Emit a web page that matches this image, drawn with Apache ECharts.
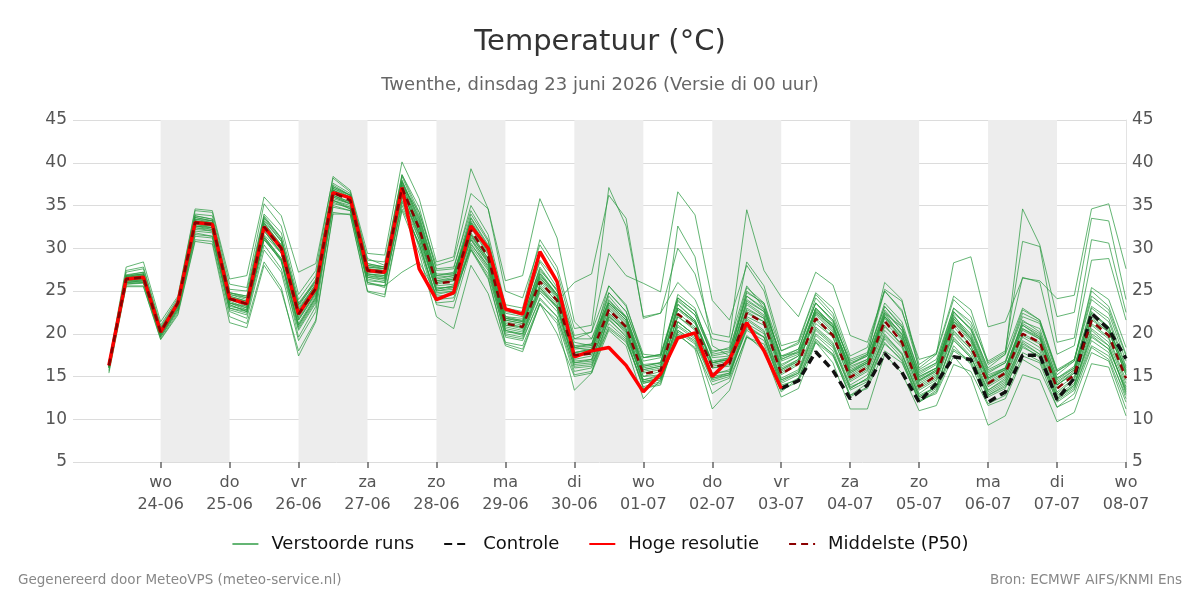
<!DOCTYPE html>
<html>
<head>
<meta charset="utf-8">
<script src="https://cdn.jsdelivr.net/npm/echarts@6/dist/echarts.min.js"></script>
<style>
  html, body { margin: 0; padding: 0; background: #fff; }
  #chart { width: 1200px; height: 600px; }
</style>
</head>
<body>
<div id="chart"></div>
<script>
// run starts 23-06 06:00, one value every 6 hours up to 08-07 00:00
const runStart = '2026-06-23T06:00'
const stepHours = 6

const tickDays = ['2026-06-24', '2026-06-25', '2026-06-26', '2026-06-27', '2026-06-28', '2026-06-29', '2026-06-30',
  '2026-07-01', '2026-07-02', '2026-07-03', '2026-07-04', '2026-07-05', '2026-07-06', '2026-07-07', '2026-07-08']
const shadedDays = ['2026-06-24', '2026-06-26', '2026-06-28', '2026-06-30', '2026-07-02', '2026-07-04', '2026-07-06']
const dayNames = ['zo', 'ma', 'di', 'wo', 'do', 'vr', 'za']

// hoge resolutie (runs until 03-07 00:00)
const hres = [16.3, 26.4, 26.6, 20.2, 23.6, 33.0, 32.8, 24.1, 23.5, 32.5, 30.0, 22.3, 25.3, 36.5, 35.9, 27.4, 27.2, 37.1, 27.6, 24.0,
  24.8, 32.6, 30.0, 22.9, 22.3, 29.6, 26.1, 17.3, 18.0, 18.4, 16.3, 13.2, 15.3, 19.5, 20.1, 15.0, 17.0, 21.3, 18.0, 13.6]

// controle, visible from 03-07 00:00 (index 39) on
const controlFrom = 39
const control = [13.6, 14.5, 17.9, 15.7, 12.4, 14.0, 17.7, 15.5, 12.0, 14.2, 17.3, 17.0, 12.0, 13.2, 17.5, 17.5, 12.3, 14.8, 22.4, 20.5, 17.1]

// middelste (P50)
const median = [16.3, 26.4, 26.6, 20.2, 23.6, 33.0, 32.8, 24.1, 23.5, 32.5, 30.0, 22.3, 25.3, 36.5, 35.6, 27.4, 27.2, 37.1, 32.3, 25.9,
  26.1, 32.1, 29.0, 21.2, 20.8, 26.1, 23.9, 17.5, 17.7, 22.8, 20.8, 15.3, 15.7, 22.3, 20.8, 16.1, 16.5, 22.4, 21.3, 15.3,
  16.5, 21.8, 19.8, 14.9, 16.1, 21.5, 19.0, 13.8, 15.1, 21.0, 18.5, 14.2, 15.4, 20.0, 19.0, 13.6, 15.2, 21.5, 19.8, 14.8]

// verstoorde runs
const member01 = [16.5,26.8,27.0, 20.5,23.8,33.6,33.2, 24.6,24.0,33.2,30.8, 23.0,25.8,37.0,36.0, 27.8,27.6,37.8,33.0, 26.4,26.8,33.5,30.2, 22.0,21.5,27.2,24.6, 18.2,18.4,24.0,21.8, 16.0,16.4,23.5,21.6, 16.8,17.2,23.6,22.2, 16.0,17.0,22.8,20.6, 15.4,16.6,22.4,19.8, 14.5,15.8,22.2,19.4, 14.8,16.0,21.2,20.0, 14.2,15.8,22.6,20.8, 15.6]
const member02 = [16.0,26.0,26.2, 19.8,23.0,32.2,32.0, 23.2,22.8,31.0,28.6, 21.0,24.2,35.4,34.6, 26.2,26.0,35.0,30.4, 24.4,24.6,29.8,27.0, 19.8,19.4,24.0,22.0, 16.2,16.4,20.6,19.0, 14.2,14.6,20.4,19.2, 14.8,15.4,20.6,19.6, 14.2,15.2,20.0,18.4, 13.6,14.8,19.6,17.6, 12.6,13.8,19.2,17.2, 13.0,14.2,18.4,17.4, 12.4,13.8,19.6,18.2, 13.4]
const member03 = [16.6,27.2,27.6, 20.8,24.0,34.0,33.8, 25.2,25.0,34.0,31.8, 24.0,26.8,37.6,36.4, 28.6,28.4,38.6,34.8, 27.4,27.6,35.0,31.6, 23.4,23.0,31.0,27.8, 20.6,21.0,37.1,32.6, 22.0,22.4,30.0,27.0, 20.0,19.6,34.5,27.4, 24.3,22.0,27.2,25.7, 19.8,19.0,25.0,22.6, 17.0,17.6,24.0,22.0, 16.4,17.6,23.0,21.6, 15.6,17.0,25.0,23.2, 17.6]
const member04 = [16.4,26.6,26.9, 20.4,23.6,33.4,33.0, 24.4,23.8,33.0,30.4, 22.8,25.6,36.8,35.8, 27.6,27.4,38.0,33.4, 26.8,27.0,34.0,30.8, 22.6,22.2,28.4,25.4, 19.4,20.2,29.4,26.8, 25.9,24.9,36.6,33.9, 23.9,21.6,28.0,25.0, 18.0,18.8,23.6,21.4, 16.8,17.6,23.2,20.8, 15.2,16.4,22.0,20.0, 15.2,16.0,21.0,19.6, 14.6,16.0,22.4,20.6, 15.8]
const member05 = [16.2,26.2,26.4, 20.0,23.4,32.8,32.6, 24.0,23.2,32.0,29.6, 22.0,25.0,36.2,35.4, 27.2,27.0,36.8,32.0, 25.6,25.8,31.8,28.8, 21.0,20.6,25.8,23.8, 26.0,27.0,36.2,33.5, 21.8,22.4,26.0,24.0, 19.4,19.0,25.6,23.0, 17.4,17.8,22.4,20.8, 16.2,17.0,22.8,20.4, 15.0,16.0,21.8,19.8, 14.8,15.8,20.6,19.4, 14.0,15.4,21.8,20.2, 15.2]
const member06 = [16.4,26.8,27.2, 20.6,23.8,33.8,33.4, 24.8,24.4,33.6,31.2, 23.6,26.2,37.4,36.2, 28.2,27.8,36.4,31.0, 25.0,25.4,31.0,28.4, 21.6,21.2,27.0,24.6, 18.4,18.8,24.4,22.0, 16.8,17.2,24.0,22.2, 17.6,18.0,25.4,23.6, 18.0,19.0,24.6,22.4, 17.0,17.8,25.0,22.8, 16.0,17.6,28.3,29.0, 20.8,21.4,26.5,26.2, 24.1,24.5,34.6,35.2, 27.6]
const member07 = [16.1,26.3,26.5, 20.1,23.5,33.2,33.0, 24.2,23.6,32.8,30.2, 22.6,25.4,36.6,35.8, 27.6,27.2,36.8,32.0, 25.8,26.2,32.6,29.4, 21.4,21.0,26.6,24.2, 17.8,18.0,23.4,21.4, 15.8,16.2,23.0,21.4, 16.6,17.0,23.4,22.0, 16.2,17.4,23.0,21.0, 16.0,17.0,22.6,20.4, 15.0,16.0,22.4,20.6, 16.0,17.6,34.6,30.4, 22.0,22.5,33.5,33.2, 24.0]
const member08 = [16.3,26.5,26.7, 20.3,23.6,32.6,32.4, 23.8,23.0,31.6,29.4, 21.6,24.8,36.0,35.2, 27.0,26.8,37.4,32.8, 26.2,26.4,33.0,29.8, 21.8,21.6,27.8,25.0, 18.6,18.8,23.8,22.0, 16.4,16.6,24.6,23.0, 17.2,17.4,24.8,23.6, 17.0,18.0,24.2,22.0, 16.4,17.6,26.0,24.0, 15.8,17.0,23.0,21.4, 16.8,18.0,30.8,30.2, 19.0,19.5,31.0,30.6, 22.5]
const member09 = [16.0,25.8,25.9, 19.6,22.6,31.4,31.2, 22.8,22.2,30.4,27.6, 20.4,23.6,35.0,34.4, 25.8,25.6,35.6,31.0, 24.0,24.2,30.2,27.4, 19.6,19.2,24.2,22.0, 15.6,16.0,21.2,19.4, 13.6,14.2,20.4,19.0, 14.4,15.0,20.8,19.6, 13.8,14.8,19.8,18.0, 12.8,14.2,19.4,17.2, 12.0,13.4,18.6,16.4, 11.8,12.8,17.4,16.6, 11.4,13.0,18.4,17.0, 12.0]
const member10 = [15.8,25.6,25.6, 19.4,22.4,31.0,30.8, 22.0,21.2,28.4,25.4, 17.4,21.4,34.0,34.0, 25.0,24.6,34.6,30.6, 23.6,23.8,30.4,28.0, 20.4,19.8,25.0,23.2, 16.8,17.0,22.0,20.2, 14.6,15.0,21.4,19.8, 15.4,15.6,21.2,20.0, 14.6,15.6,20.8,19.0, 14.0,15.2,20.4,18.4, 13.0,14.4,20.0,17.8, 13.2,14.4,19.2,18.0, 12.6,14.0,20.0,18.6, 13.0]
const member11 = [16.2,26.0,26.1, 20.0,23.2,32.4,32.2, 23.4,22.6,31.2,28.8, 20.8,24.0,35.6,34.8, 26.6,26.2,36.4,31.6, 25.0,25.2,31.2,28.2, 20.4,20.0,25.2,23.0, 16.4,16.6,21.6,19.8, 14.4,14.8,21.0,19.6, 15.0,15.4,20.4,19.2, 14.0,14.6,19.0,17.4, 12.8,13.6,18.0,16.6, 12.2,13.0,17.4,15.0, 9.3,10.4,15.2,14.6, 9.7,10.8,16.5,16.1, 10.4]
const member12 = [16.4,26.6,26.8, 20.2,23.4,32.6,32.2, 23.6,22.8,31.4,28.6, 19.6,23.2,35.8,35.2, 26.8,26.4,36.0,30.0, 23.4,23.0,29.8,26.4, 19.0,18.6,23.6,21.2, 13.4,15.4,20.4,18.6, 12.4,14.6,20.0,18.2, 11.2,13.4,19.6,18.4, 13.2,14.8,19.4,17.6, 12.6,13.8,19.0,16.8, 12.0,13.2,18.0,16.6, 12.6,13.6,18.6,17.2, 12.0,13.4,19.2,17.8, 12.4]
const member13 = [16.3,26.4,26.6, 20.2,23.6,33.2,33.0, 24.4,23.8,32.8,30.4, 22.8,25.8,36.8,36.0, 27.8,27.6,37.6,32.6, 26.2,26.6,32.8,29.6, 21.6,21.2,26.6,24.4, 17.8,18.2,23.2,21.2, 15.6,16.0,22.8,21.2, 16.4,16.8,22.8,21.8, 15.6,16.8,22.2,20.2, 15.2,16.4,21.8,19.4, 14.2,15.4,21.4,19.0, 14.6,15.8,20.6,19.6, 14.0,15.6,22.0,20.4, 15.2]
const member14 = [16.5,26.9,27.2, 20.6,23.8,33.8,33.4, 24.8,24.2,33.4,30.8, 23.2,26.2,37.0,36.2, 28.0,27.6,36.2,31.4, 25.2,25.6,31.4,28.6, 20.8,20.4,25.6,23.4, 17.0,17.4,22.4,20.6, 15.0,15.6,22.0,20.4, 16.0,16.4,23.0,21.8, 15.8,16.8,21.6,19.6, 14.6,15.8,21.0,18.6, 13.6,14.8,20.4,18.2, 14.0,15.2,21.6,20.2, 14.8,16.0,23.0,21.4, 16.0]
const member15 = [16.1,26.1,26.3, 19.9,23.2,32.6,32.4, 23.6,23.0,32.0,29.4, 21.8,24.8,36.2,35.4, 27.0,26.8,37.0,32.6, 26.0,26.2,32.4,29.2, 21.2,20.8,26.4,24.0, 17.6,17.8,23.0,21.0, 15.4,15.8,22.0,20.6, 16.2,16.6,22.4,21.4, 15.4,16.6,21.8,20.0, 15.0,16.2,21.4,19.2, 13.8,15.0,20.8,18.6, 14.2,15.4,20.0,19.0, 13.6,15.0,21.2,19.6, 14.6]
const member16 = [16.6,27.4,27.8, 21.0,24.2,34.4,34.2, 25.8,25.4,35.2,32.6, 24.6,27.4,38.4,36.8, 29.4,29.2,40.1,35.8, 28.4,29.0,39.3,34.6, 25.0,24.2,30.4,27.2, 19.8,20.2,25.6,23.4, 17.2,17.6,24.2,22.6, 18.0,18.2,24.4,23.0, 17.2,18.2,23.6,21.6, 16.4,17.4,23.2,21.0, 15.6,16.6,22.6,20.4, 15.4,16.6,22.0,21.2, 15.2,16.8,24.0,22.4, 16.8]
const member17 = [16.0,25.9,26.0, 19.8,22.8,31.8,31.4, 22.6,21.8,29.8,27.2, 19.2,22.6,35.2,34.8, 26.0,25.6,27.2,28.4, 24.6,25.0,30.0,26.6, 18.8,18.2,23.4,21.6, 15.2,15.6,20.8,19.2, 13.8,14.4,19.8,18.4, 14.0,14.8,19.6,18.8, 13.4,14.4,19.2,17.6, 13.4,14.4,18.8,17.0, 12.4,13.6,18.2,16.8, 12.8,13.8,17.8,16.8, 12.2,13.6,18.6,17.4, 12.8]
const member18 = [16.4,26.7,27.0, 20.4,23.6,33.2,32.8, 24.2,23.4,32.4,30.0, 22.4,25.4,36.6,35.8, 27.4,27.0,37.4,34.2, 28.0,28.6,36.4,34.6, 26.2,26.8,35.8,31.2, 21.4,19.4,23.6,22.0, 16.2,16.6,23.4,21.6, 16.6,17.0,22.6,21.4, 15.8,17.0,23.0,20.8, 15.6,16.6,22.0,19.6, 14.4,15.6,21.6,19.2, 14.4,15.6,20.4,19.4, 14.0,15.4,21.6,20.2, 15.4]
const member19 = [16.2,26.4,26.5, 20.2,23.4,32.8,32.6, 24.0,23.6,32.6,29.8, 22.2,25.0,36.2,35.2, 27.0,26.6,37.2,32.4, 25.4,25.4,31.6,28.8, 21.0,20.8,26.8,24.6, 18.4,18.0,24.8,22.6, 17.2,17.6,32.6,29.0, 18.6,17.4,25.0,23.4, 17.0,17.8,23.0,21.0, 15.6,16.8,22.0,20.0, 14.6,15.8,21.4,19.6, 15.0,16.0,21.4,20.6, 14.8,16.2,23.2,21.8, 16.2]
const member20 = [16.3,26.3,26.4, 20.0,23.3,32.4,32.0, 23.4,22.6,31.0,28.6, 21.2,24.4,35.6,35.0, 26.6,26.4,36.6,32.4, 26.0,26.4,33.6,30.4, 22.4,22.0,27.4,25.2, 19.0,18.6,25.6,23.2, 17.6,17.4,24.2,22.6, 17.8,18.4,28.4,25.6, 18.6,19.2,24.8,23.0, 17.4,18.4,25.2,23.8, 16.4,17.8,24.4,22.8, 16.6,17.8,26.6,26.0, 17.6,18.6,28.6,28.8, 21.6]
const member21 = [16.2,26.2,26.3, 20.0,23.4,32.8,32.4, 23.6,23.2,32.2,29.4, 21.6,24.6,36.0,35.2, 26.8,26.6,36.8,31.8, 25.2,25.6,31.6,28.4, 20.6,20.2,25.4,23.0, 16.6,16.8,22.2,20.0, 14.4,14.8,21.4,19.8, 14.8,15.2,21.0,19.6, 14.4,15.4,20.6,18.8, 13.6,14.8,20.0,17.6, 12.6,13.8,19.6,17.4, 12.8,14.0,19.0,17.6, 12.4,14.0,20.4,18.6, 13.2]
const member22 = [16.5,26.6,26.8, 20.4,23.6,33.0,32.8, 24.2,23.8,33.0,30.2, 22.6,25.6,36.8,35.8, 27.6,27.4,37.8,33.2, 26.6,26.8,33.0,29.8, 21.8,21.4,26.2,23.6, 17.4,17.6,22.8,20.6, 15.0,15.2,22.4,20.8, 16.0,16.2,22.0,21.0, 15.2,16.4,22.4,20.4, 14.8,16.0,22.0,19.4, 14.0,15.2,21.2,18.6, 13.8,15.0,19.8,18.8, 13.2,14.8,21.0,19.4, 14.2]
const member23 = [16.1,26.0,26.2, 19.8,23.0,32.0,31.8, 23.0,22.4,31.4,28.8, 21.0,24.2,35.6,34.6, 26.4,26.0,36.2,31.6, 24.8,25.0,31.0,27.8, 20.0,19.6,24.8,22.6, 16.0,16.2,21.8,19.6, 13.6,14.0,20.2,18.8, 13.0,14.4,19.8,18.0, 12.6,13.6,19.0,16.6, 11.2,11.2,17.6,15.4, 11.0,11.6,16.4,15.6, 11.6,12.4,17.0,15.8, 11.4,12.4,17.8,16.8, 11.2]
const member24 = [16.4,26.5,26.7, 20.3,23.7,33.4,33.2, 24.6,24.2,33.6,31.0, 23.4,26.4,37.2,36.2, 28.2,27.8,38.4,33.8, 27.0,27.0,33.2,30.0, 22.0,21.8,27.6,25.0, 18.4,18.6,23.6,21.6, 16.2,16.6,23.0,21.4, 16.6,17.0,23.8,22.6, 16.8,17.6,22.6,21.2, 15.8,16.8,22.4,20.8, 14.8,16.0,22.6,20.6, 15.6,16.6,22.4,21.4, 15.6,16.8,25.4,24.0, 18.4]
const member25 = [15.6,25.8,26.0, 19.6,22.8,31.6,31.4, 23.0,22.6,31.2,28.4, 20.6,23.8,34.8,34.4, 26.0,25.4,35.4,30.4, 24.2,24.6,30.6,27.6, 20.2,20.0,25.4,23.2, 16.6,17.0,22.4,20.4, 14.6,15.2,21.4,19.8, 15.2,15.8,21.8,20.4, 14.8,15.8,21.2,19.6, 14.4,15.6,20.8,18.8, 13.4,14.6,20.2,18.2, 13.4,14.8,19.6,18.4, 13.0,14.6,20.6,19.0, 13.8]
const member26 = [16.7,27.8,28.4, 21.4,24.4,34.6,34.4, 26.4,26.8,36.0,33.8, 27.2,28.2,38.2,36.6, 28.8,28.0,37.8,33.6, 26.8,27.2,32.8,29.6, 21.8,21.4,27.0,24.4, 17.8,18.2,23.6,21.6, 15.8,16.2,23.0,21.4, 16.6,17.2,24.0,22.6, 16.4,17.4,22.6,20.8, 15.4,16.6,22.2,20.0, 14.6,15.6,21.8,19.4, 14.8,15.8,21.0,19.8, 14.4,15.8,22.4,20.8, 15.6]
const member27 = [15.4,25.5,25.5, 19.3,22.2,30.8,30.5, 21.3,20.7,28.0,25.0, 18.0,21.6,34.2,33.9, 24.9,24.3,34.4,29.4, 22.0,20.6,28.0,24.7, 18.6,17.9,23.5,20.0, 15.0,15.4,22.0,20.4, 14.2,14.8,20.8,19.4, 14.6,15.2,21.6,20.2, 14.6,15.4,20.4,18.6, 13.8,14.6,19.8,17.8, 12.8,13.8,19.4,17.2, 13.4,14.6,18.8,17.6, 12.8,14.2,19.8,18.2, 13.6]
const member28 = [16.3,26.7,27.0, 20.6,23.8,33.6,33.2, 24.8,24.4,33.8,31.2, 23.4,26.0,37.2,36.2, 28.0,27.8,38.6,34.2, 27.6,27.8,34.4,31.0, 23.0,22.6,28.6,26.2, 19.4,19.4,24.8,22.6, 17.2,17.4,23.8,22.2, 17.4,17.8,24.4,22.8, 17.4,18.2,23.6,21.6, 16.6,17.4,23.6,21.4, 15.4,16.6,23.0,21.0, 15.8,16.8,22.8,21.6, 15.8,17.0,24.4,22.8, 17.4]

const members = [member01, member02, member03, member04, member05, member06, member07, member08, member09, member10,
  member11, member12, member13, member14, member15, member16, member17, member18, member19, member20,
  member21, member22, member23, member24, member25, member26, member27, member28]

const HOUR = 3600 * 1000
const DAY = 24 * HOUR
const startMs = new Date(runStart).getTime()
const times = median.map((_, i) => startMs + i * stepHours * HOUR)
const toPairs = (arr, offset = 0) => arr.map((v, k) => [times[offset + k], v])
const tickValues = tickDays.map((d) => new Date(d + 'T00:00').getTime())

const chart = echarts.init(document.getElementById('chart'))

const memberSeries = members.map((m) => ({
  name: 'Verstoorde runs',
  type: 'line',
  data: toPairs(m),
  symbol: 'none',
  silent: true,
  z: 2,
  lineStyle: { color: '#28983f', width: 1, opacity: 0.72 },
  itemStyle: { color: '#7cc48b' }
}))

const pad = (n) => String(n).padStart(2, '0')

chart.setOption({
  animation: false,
  textStyle: { fontFamily: 'DejaVu Sans' },
  title: {
    text: 'Temperatuur (°C)',
    subtext: 'Twenthe, dinsdag 23 juni 2026 (Versie di 00 uur)',
    left: 'center',
    top: 23,
    itemGap: 19,
    textStyle: { fontSize: 29, fontWeight: 'normal', color: '#333' },
    subtextStyle: { fontSize: 18, color: '#666' }
  },
  grid: { left: 73, right: 74, top: 120, bottom: 138 },
  legend: {
    top: 530,
    left: 'center',
    itemWidth: 26,
    itemHeight: 12,
    itemGap: 29,
    itemStyle: { opacity: 0 },
    textStyle: { fontSize: 18, color: '#111', padding: [0, 0, 0, 8] },
    data: ['Verstoorde runs', 'Controle', 'Hoge resolutie', 'Middelste (P50)']
  },
  xAxis: {
    type: 'value',
    min: new Date('2026-06-22T17:30').getTime(),
    max: new Date('2026-07-08T00:00').getTime(),
    axisLine: { show: false },
    splitLine: { show: false },
    axisTick: {
      show: true,
      length: 6,
      lineStyle: { color: '#666', width: 1.5 },
      customValues: tickValues
    },
    axisLabel: {
      color: '#555',
      fontSize: 16,
      lineHeight: 22,
      margin: 10,
      customValues: tickValues,
      formatter: (val) => {
        const d = new Date(val)
        return dayNames[d.getDay()] + '\n' + pad(d.getDate()) + '-' + pad(d.getMonth() + 1)
      }
    }
  },
  yAxis: [
    {
      type: 'value', min: 5, max: 45, interval: 5, position: 'left',
      axisLine: { show: false },
      axisTick: { show: false },
      axisLabel: { color: '#555', fontSize: 17, margin: 6 },
      splitLine: { lineStyle: { color: '#dcdcdc' } }
    },
    {
      type: 'value', min: 5, max: 45, interval: 5, position: 'right',
      axisLine: { show: true, lineStyle: { color: '#e3e3e3' } },
      axisTick: { show: false },
      axisLabel: { color: '#555', fontSize: 17, margin: 6 },
      splitLine: { show: false }
    }
  ],
  series: [
    {
      name: 'dagen',
      type: 'line',
      data: [],
      silent: true,
      z: 1,
      markArea: {
        silent: true,
        itemStyle: { color: '#ededed' },
        data: shadedDays.map((d) => {
          const s = new Date(d + 'T00:00').getTime()
          return [{ xAxis: s }, { xAxis: s + DAY }]
        })
      }
    },
    ...memberSeries,
    {
      name: 'Controle',
      type: 'line',
      data: toPairs(control, controlFrom),
      symbol: 'none',
      z: 3,
      lineStyle: { color: '#111', width: 3.5, type: [8, 5] },
      itemStyle: { color: '#111' }
    },
    {
      name: 'Hoge resolutie',
      type: 'line',
      data: toPairs(hres),
      symbol: 'none',
      z: 4,
      lineStyle: { color: '#ff0000', width: 3.5 },
      itemStyle: { color: '#ff0000' }
    },
    {
      name: 'Middelste (P50)',
      type: 'line',
      data: toPairs(median),
      symbol: 'none',
      z: 5,
      lineStyle: { color: '#8b0000', width: 2.5, type: [7, 5] },
      itemStyle: { color: '#8b0000' }
    }
  ],
  graphic: [
    { type: 'text', left: 18, top: 573, style: { text: 'Gegenereerd door MeteoVPS (meteo-service.nl)', fontSize: 13.5, fill: '#888', fontFamily: 'DejaVu Sans' } },
    { type: 'text', right: 18, top: 573, style: { text: 'Bron: ECMWF AIFS/KNMI Ens', fontSize: 13.5, fill: '#888', fontFamily: 'DejaVu Sans' } }
  ]
})
</script>
</body>
</html>
